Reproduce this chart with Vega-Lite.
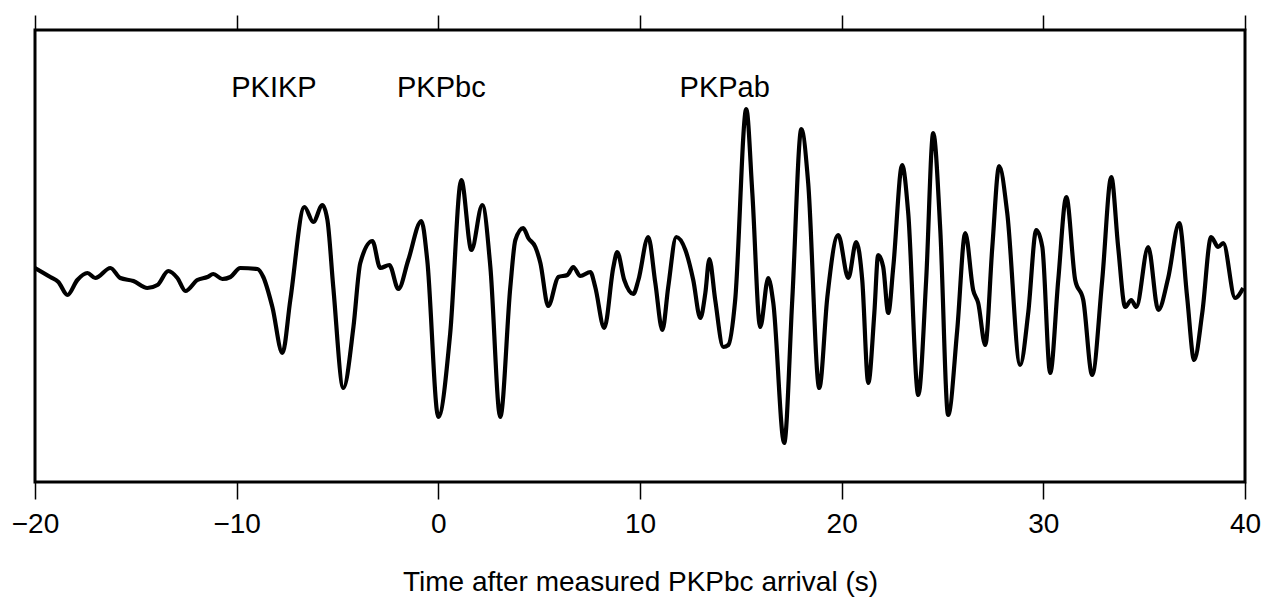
{
  "$schema": "https://vega.github.io/schema/vega-lite/v6.json",
  "width": 1210,
  "height": 452,
  "autosize": {"type": "none"},
  "padding": {"left": 35, "top": 30, "right": 26, "bottom": 117},
  "config": {
    "view": {"stroke": "black", "strokeWidth": 3},
    "font": "Liberation Sans"
  },
  "datasets": {
    "trace": [
      {"t": -20.0, "a": 2}, {"t": -19.24, "a": -7}, {"t": -18.84, "a": -12}, {"t": -18.39, "a": -25},
      {"t": -17.9, "a": -10}, {"t": -17.4, "a": -3}, {"t": -17.01, "a": -8}, {"t": -16.26, "a": 2},
      {"t": -15.77, "a": -8}, {"t": -15.12, "a": -11}, {"t": -14.43, "a": -18}, {"t": -13.93, "a": -15},
      {"t": -13.39, "a": -1}, {"t": -12.94, "a": -8}, {"t": -12.54, "a": -21}, {"t": -11.95, "a": -10},
      {"t": -11.45, "a": -7}, {"t": -11.16, "a": -4}, {"t": -10.71, "a": -9}, {"t": -10.31, "a": -7},
      {"t": -9.82, "a": 2}, {"t": -8.97, "a": 1}, {"t": -8.68, "a": -7}, {"t": -8.23, "a": -37},
      {"t": -7.73, "a": -83}, {"t": -7.34, "a": -30}, {"t": -6.64, "a": 63}, {"t": -6.2, "a": 48},
      {"t": -5.75, "a": 65}, {"t": -5.5, "a": 50}, {"t": -5.21, "a": -17}, {"t": -4.71, "a": -118},
      {"t": -4.21, "a": -57}, {"t": -3.87, "a": 7}, {"t": -3.27, "a": 29}, {"t": -2.88, "a": 2},
      {"t": -2.43, "a": 5}, {"t": -1.98, "a": -19}, {"t": -1.49, "a": 10}, {"t": -0.84, "a": 49},
      {"t": -0.55, "a": 10}, {"t": 0.0, "a": -147}, {"t": 0.59, "a": -63}, {"t": 1.14, "a": 90},
      {"t": 1.64, "a": 20}, {"t": 2.18, "a": 65}, {"t": 2.58, "a": 3}, {"t": 3.07, "a": -147},
      {"t": 3.57, "a": -17}, {"t": 3.82, "a": 30}, {"t": 4.21, "a": 42}, {"t": 4.46, "a": 32},
      {"t": 4.81, "a": 23}, {"t": 5.06, "a": 7}, {"t": 5.45, "a": -36}, {"t": 5.95, "a": -7},
      {"t": 6.4, "a": -5}, {"t": 6.69, "a": 3}, {"t": 7.04, "a": -6}, {"t": 7.54, "a": -2},
      {"t": 7.78, "a": -17}, {"t": 8.23, "a": -58}, {"t": 8.68, "a": 3}, {"t": 8.87, "a": 18},
      {"t": 9.22, "a": -10}, {"t": 9.67, "a": -24}, {"t": 9.92, "a": -10}, {"t": 10.41, "a": 33},
      {"t": 10.76, "a": -13}, {"t": 11.11, "a": -60}, {"t": 11.4, "a": -17}, {"t": 11.8, "a": 33},
      {"t": 12.25, "a": 20}, {"t": 12.64, "a": -10}, {"t": 12.99, "a": -48}, {"t": 13.24, "a": -23},
      {"t": 13.44, "a": 11}, {"t": 13.73, "a": -30}, {"t": 14.13, "a": -77}, {"t": 14.38, "a": -75},
      {"t": 14.72, "a": -30}, {"t": 15.27, "a": 161}, {"t": 15.57, "a": 77}, {"t": 15.96, "a": -57},
      {"t": 16.36, "a": -8}, {"t": 16.61, "a": -33}, {"t": 17.15, "a": -173}, {"t": 17.55, "a": -30},
      {"t": 18.0, "a": 141}, {"t": 18.34, "a": 87}, {"t": 18.89, "a": -118}, {"t": 19.29, "a": -27},
      {"t": 19.83, "a": 35}, {"t": 20.33, "a": -8}, {"t": 20.72, "a": 28}, {"t": 21.02, "a": -10},
      {"t": 21.32, "a": -113}, {"t": 21.62, "a": -43}, {"t": 21.81, "a": 15}, {"t": 22.06, "a": 3},
      {"t": 22.31, "a": -43}, {"t": 22.56, "a": 3}, {"t": 23.0, "a": 105}, {"t": 23.3, "a": 57},
      {"t": 23.8, "a": -125}, {"t": 24.19, "a": -10}, {"t": 24.54, "a": 137}, {"t": 24.89, "a": 40},
      {"t": 25.28, "a": -145}, {"t": 25.73, "a": -60}, {"t": 26.13, "a": 37}, {"t": 26.52, "a": -20},
      {"t": 26.77, "a": -33}, {"t": 27.12, "a": -75}, {"t": 27.47, "a": 23}, {"t": 27.81, "a": 104},
      {"t": 28.21, "a": 57}, {"t": 28.85, "a": -95}, {"t": 29.25, "a": -43}, {"t": 29.65, "a": 40},
      {"t": 29.95, "a": 23}, {"t": 30.34, "a": -103}, {"t": 30.74, "a": -10}, {"t": 31.14, "a": 73},
      {"t": 31.58, "a": -10}, {"t": 31.98, "a": -30}, {"t": 32.42, "a": -105}, {"t": 32.92, "a": -10},
      {"t": 33.37, "a": 93}, {"t": 33.71, "a": 23}, {"t": 34.06, "a": -37}, {"t": 34.36, "a": -30},
      {"t": 34.61, "a": -37}, {"t": 35.2, "a": 23}, {"t": 35.7, "a": -40}, {"t": 36.19, "a": -8},
      {"t": 36.74, "a": 47}, {"t": 37.13, "a": -27}, {"t": 37.48, "a": -90}, {"t": 37.88, "a": -43},
      {"t": 38.32, "a": 33}, {"t": 38.67, "a": 23}, {"t": 38.92, "a": 27}, {"t": 39.51, "a": -28},
      {"t": 39.91, "a": -18}
    ],
    "phases": [
      {"t": -8.15, "a": 182, "name": "PKIKP"},
      {"t": 0.15, "a": 182, "name": "PKPbc"},
      {"t": 14.2, "a": 182, "name": "PKPab"}
    ]
  },
  "layer": [
    {
      "data": {"name": "trace"},
      "mark": {"type": "line", "color": "black", "strokeWidth": 4.2, "interpolate": "monotone", "strokeJoin": "round", "clip": true},
      "encoding": {
        "x": {
          "field": "t", "type": "quantitative",
          "scale": {"domain": [-20, 40], "nice": false, "zero": false},
          "axis": {
            "orient": "bottom", "values": [-20, -10, 0, 10, 20, 30, 40],
            "title": "Time after measured PKPbc arrival (s)",
            "grid": false, "domain": false,
            "tickSize": 17, "tickWidth": 1.5, "tickColor": "black",
            "labelFontSize": 28, "labelColor": "black", "labelFont": "Liberation Sans",
            "labelPadding": 11, "labelFlush": false, "labelOverlap": false,
            "titleFontSize": 28, "titleFontWeight": "normal", "titleColor": "black",
            "titleFont": "Liberation Sans", "titlePadding": 30
          }
        },
        "y": {
          "field": "a", "type": "quantitative",
          "scale": {"domain": [-212, 240], "nice": false, "zero": false},
          "axis": null
        }
      }
    },
    {
      "data": {"name": "phases"},
      "mark": {"type": "text", "fontSize": 29, "font": "Liberation Sans", "color": "black", "align": "center", "baseline": "middle"},
      "encoding": {
        "x": {
          "field": "t", "type": "quantitative",
          "axis": {
            "orient": "top", "values": [-20, -10, 0, 10, 20, 30, 40],
            "labels": false, "title": null, "grid": false, "domain": false,
            "tickSize": 15, "tickWidth": 1.5, "tickColor": "black"
          }
        },
        "y": {"field": "a", "type": "quantitative"},
        "text": {"field": "name", "type": "nominal"}
      }
    }
  ],
  "resolve": {"axis": {"x": "independent"}}
}
